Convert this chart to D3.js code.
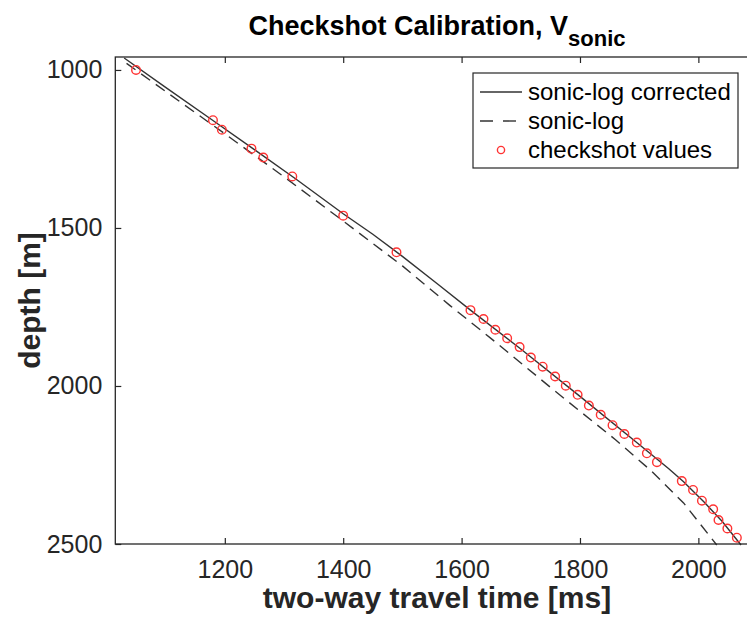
<!DOCTYPE html>
<html>
<head>
<meta charset="utf-8">
<script src="https://cdn.jsdelivr.net/npm/d3@7"></script>
<style>
  body { margin: 0; background: #fff; }
  svg text { font-family: "Liberation Sans", Arial, sans-serif; }
</style>
</head>
<body>
<div id="chart"></div>
<script>
// checkshot values (two-way time in ms, depth in m)
var shotTime  = [1050, 1180, 1195, 1245, 1265, 1314, 1400, 1490, 1615, 1637, 1657, 1677, 1698, 1717, 1737, 1758, 1776, 1796, 1815, 1835, 1855, 1875, 1896, 1913, 1930, 1972, 1991, 2006, 2025, 2034, 2049, 2065];
var shotDepth = [1000, 1159, 1189, 1249, 1277, 1337, 1461, 1577, 1760, 1788, 1822, 1849, 1877, 1910, 1939, 1970, 1999, 2028, 2062, 2091, 2124, 2152, 2179, 2213, 2241, 2301, 2329, 2363, 2390, 2424, 2451, 2480];

// sonic-log corrected
var corrTime  = [1030, 1100, 1180, 1250, 1320, 1400, 1450, 1500, 1560, 1615, 1700, 1800, 1900, 1950, 1975, 2010, 2040, 2072];
var corrDepth = [962, 1055, 1160, 1252, 1345, 1455, 1520, 1590, 1678, 1760, 1883, 2033, 2185, 2262, 2303, 2368, 2428, 2503];

// sonic-log (uncorrected)
var sonicTime  = [1034, 1100, 1200, 1300, 1400, 1500, 1580, 1650, 1750, 1800, 1860, 1920, 1975, 2031];
var sonicDepth = [979, 1068, 1202, 1338, 1478, 1620, 1745, 1850, 2004, 2080, 2170, 2268, 2370, 2503];

var xTicks = [1200, 1400, 1600, 1800, 2000];
var yTicks = [1000, 1500, 2000, 2500];

var W = 747, H = 628;
// right side of the axes box sits just past the picture edge
var pLeft = 115.3, pRight = 748.1, pTop = 57, pBottom = 544;
var axisColor = "#262626";

var svg = d3.select("#chart").append("svg")
    .attr("width", W)
    .attr("height", H);

var x = d3.scaleLinear().domain([1015, 2084]).range([pLeft, pRight]);
var y = d3.scaleLinear().domain([959, 2500]).range([pTop, pBottom]);

function pairs(t, d) { return t.map(function(v, i) { return [v, d[i]]; }); }

var line = d3.line()
  .x(function(d) { return x(d[0]); })
  .y(function(d) { return y(d[1]); });

var plot = svg.append("g");

plot.append("path")
  .attr("d", line(pairs(sonicTime, sonicDepth)))
  .attr("fill", "none")
  .attr("stroke", "#333")
  .attr("stroke-width", 1.4)
  .attr("stroke-dasharray", "11,7");

plot.append("path")
  .attr("d", line(pairs(corrTime, corrDepth)))
  .attr("fill", "none")
  .attr("stroke", "#333")
  .attr("stroke-width", 1.4);

plot.selectAll("circle.shot")
  .data(pairs(shotTime, shotDepth))
  .enter().append("circle")
  .attr("class", "shot")
  .attr("cx", function(d) { return x(d[0]); })
  .attr("cy", function(d) { return y(d[1]); })
  .attr("r", 4.3)
  .attr("fill", "none")
  .attr("stroke", "#f33")
  .attr("stroke-width", 1.4);

// axes, matlab style: ticks inside, box on
function styleAxis(g) {
  g.select(".domain").remove();
  g.selectAll(".tick line").attr("stroke", axisColor).attr("stroke-width", 1.2);
  g.selectAll(".tick text")
    .attr("fill", axisColor)
    .style("font-size", "25px");
}

svg.append("g")
  .attr("transform", "translate(0," + pBottom + ")")
  .call(d3.axisBottom(x).tickValues(xTicks).tickSizeInner(-6).tickPadding(16).tickFormat(d3.format("d")))
  .call(styleAxis);

svg.append("g")
  .attr("transform", "translate(0," + pTop + ")")
  .call(d3.axisTop(x).tickValues(xTicks).tickSizeInner(-6).tickFormat(""))
  .call(styleAxis);

svg.append("g")
  .attr("transform", "translate(" + pLeft + ",0)")
  .call(d3.axisLeft(y).tickValues(yTicks).tickSizeInner(-6).tickPadding(13).tickFormat(d3.format("d")))
  .call(styleAxis);

svg.append("rect")
  .attr("x", pLeft).attr("y", pTop)
  .attr("width", pRight - pLeft).attr("height", pBottom - pTop)
  .attr("fill", "none")
  .attr("stroke", axisColor)
  .attr("stroke-width", 1.3);

// title
var title = svg.append("text")
  .attr("x", 437)
  .attr("y", 35)
  .attr("text-anchor", "middle")
  .style("font-size", "27px")
  .style("font-weight", "bold")
  .attr("fill", "#000");
title.append("tspan").text("Checkshot Calibration, V");
title.append("tspan").attr("dy", 11).style("font-size", "22px").text("sonic");

svg.append("text")
  .attr("x", 437)
  .attr("y", 608)
  .attr("text-anchor", "middle")
  .style("font-size", "30px")
  .style("font-weight", "bold")
  .attr("fill", "#262626")
  .text("two-way travel time [ms]");

svg.append("text")
  .attr("transform", "rotate(-90)")
  .attr("x", -(pTop + pBottom) / 2)
  .attr("y", 40)
  .attr("text-anchor", "middle")
  .style("font-size", "30px")
  .style("font-weight", "bold")
  .attr("fill", "#262626")
  .text("depth [m]");

// legend
var lg = svg.append("g");
lg.append("rect")
  .attr("x", 473).attr("y", 73)
  .attr("width", 265).attr("height", 95)
  .attr("fill", "#fff")
  .attr("stroke", axisColor)
  .attr("stroke-width", 1.2);

var legendItems = ["sonic-log corrected", "sonic-log", "checkshot values"];
var rowY = [92, 121, 150];

lg.append("line")
  .attr("x1", 480).attr("x2", 522).attr("y1", rowY[0]).attr("y2", rowY[0])
  .attr("stroke", "#333").attr("stroke-width", 1.4);
lg.append("line")
  .attr("x1", 480).attr("x2", 522).attr("y1", rowY[1]).attr("y2", rowY[1])
  .attr("stroke", "#333").attr("stroke-width", 1.4)
  .attr("stroke-dasharray", "13,10");
lg.append("circle")
  .attr("cx", 501).attr("cy", rowY[2]).attr("r", 3.6)
  .attr("fill", "none").attr("stroke", "#f33").attr("stroke-width", 1.4);

lg.selectAll("text.leg").data(legendItems)
  .enter().append("text")
  .attr("class", "leg")
  .attr("x", 528)
  .attr("y", function(d, i) { return rowY[i] + 8; })
  .style("font-size", "24px")
  .attr("fill", "#000")
  .text(function(d) { return d; });
</script>
</body>
</html>
